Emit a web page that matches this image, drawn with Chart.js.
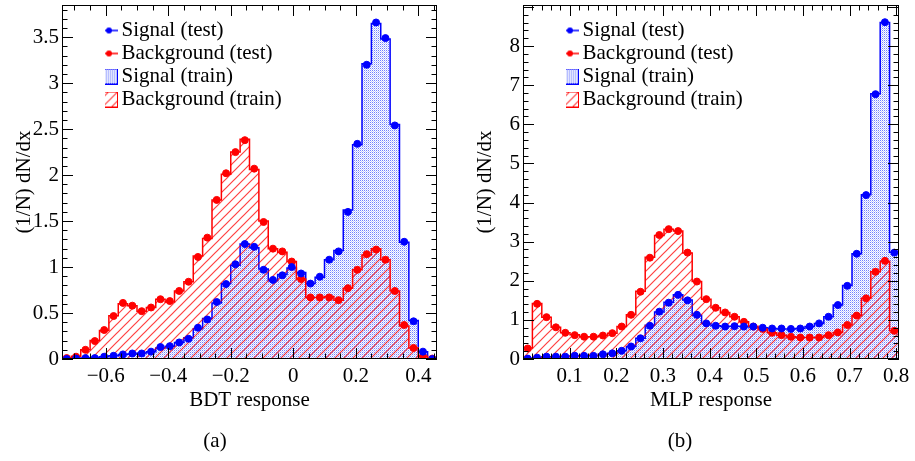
<!DOCTYPE html>
<html>
<head>
<meta charset="utf-8">
<script src="https://cdn.jsdelivr.net/npm/chart.js@4.4.1/dist/chart.umd.min.js"></script>
<style>
  html, body { margin: 0; padding: 0; background: #fff; }
  #wrap { position: relative; width: 915px; height: 461px; }
  canvas { position: absolute; top: 0; }
  #bdtChart { left: 0; }
  #mlpChart { left: 458px; }
  .cap { position: absolute; top: 428px; width: 60px; text-align: center;
         font: 21px "Liberation Serif", serif; color: #000; }
</style>
</head>
<body>
<div id="wrap">
  <canvas id="bdtChart" width="458" height="461"></canvas>
  <canvas id="mlpChart" width="457" height="461"></canvas>
  <div class="cap" style="left:185px">(a)</div>
  <div class="cap" style="left:650px">(b)</div>
</div>
<script>
// BDT response: 40 bins from -0.74 to 0.46
const bdtRange = [-0.74, 0.46];
const bdtSignalTest = [0.0, 0.005, 0.01, 0.01, 0.025, 0.035, 0.05, 0.06, 0.06, 0.08, 0.13, 0.14, 0.18, 0.22, 0.34, 0.43, 0.62, 0.815, 1.03, 1.25,
  1.22, 0.97, 0.86, 0.91, 1.0, 0.93, 0.82, 0.895, 1.08, 1.17, 1.60, 2.34, 3.20, 3.66, 3.49, 2.54, 1.275, 0.41, 0.08, 0.0];
const bdtSignalTrain = [0.0, 0.005, 0.01, 0.015, 0.025, 0.035, 0.05, 0.055, 0.065, 0.08, 0.12, 0.14, 0.18, 0.23, 0.33, 0.44, 0.61, 0.82, 1.02, 1.25,
  1.21, 0.98, 0.85, 0.92, 0.99, 0.94, 0.82, 0.89, 1.08, 1.18, 1.62, 2.33, 3.21, 3.65, 3.48, 2.55, 1.27, 0.42, 0.08, 0.005];
const bdtBackgroundTest = [0.01, 0.025, 0.10, 0.195, 0.315, 0.467, 0.61, 0.58, 0.52, 0.56, 0.65, 0.63, 0.74, 0.84, 1.11, 1.32, 1.73, 2.02, 2.25, 2.38,
  2.07, 1.49, 1.20, 1.17, 1.06, 0.87, 0.67, 0.67, 0.67, 0.64, 0.77, 0.97, 1.14, 1.19, 1.08, 0.74, 0.37, 0.12, 0.03, 0.005];
const bdtBackgroundTrain = [0.01, 0.03, 0.10, 0.2, 0.31, 0.47, 0.6, 0.58, 0.52, 0.56, 0.65, 0.62, 0.74, 0.84, 1.12, 1.31, 1.73, 2.01, 2.25, 2.39,
  2.06, 1.5, 1.2, 1.16, 1.06, 0.87, 0.67, 0.67, 0.68, 0.64, 0.77, 0.97, 1.13, 1.2, 1.08, 0.74, 0.36, 0.12, 0.03, 0.005];
const bdtXTicks = [-0.6, -0.4, -0.2, 0, 0.2, 0.4];
const bdtXLabels = ['\u22120.6', '\u22120.4', '\u22120.2', '0', '0.2', '0.4'];
const bdtYTicks = [0, 0.5, 1, 1.5, 2, 2.5, 3, 3.5];
const bdtYLabels = ['0', '0.5', '1', '1.5', '2', '2.5', '3', '3.5'];

// MLP response: 40 bins from 0 to 0.806
const mlpRange = [0, 0.806];
const mlpSignalTest = [0.01, 0.035, 0.06, 0.06, 0.06, 0.085, 0.08, 0.08, 0.12, 0.145, 0.21, 0.32, 0.53, 0.85, 1.21, 1.44, 1.64, 1.5, 1.13, 0.91,
  0.85, 0.83, 0.84, 0.83, 0.83, 0.80, 0.78, 0.78, 0.77, 0.78, 0.83, 0.91, 1.08, 1.38, 1.87, 2.69, 4.19, 6.77, 8.61, 2.72];
const mlpSignalTrain = [0.01, 0.035, 0.06, 0.06, 0.065, 0.08, 0.08, 0.085, 0.12, 0.15, 0.21, 0.32, 0.53, 0.86, 1.2, 1.45, 1.64, 1.51, 1.12, 0.91,
  0.85, 0.83, 0.84, 0.83, 0.82, 0.8, 0.78, 0.77, 0.77, 0.78, 0.83, 0.91, 1.08, 1.38, 1.88, 2.69, 4.2, 6.78, 8.6, 2.73];
const mlpBackgroundTest = [0.27, 1.41, 1.07, 0.81, 0.67, 0.61, 0.57, 0.57, 0.60, 0.66, 0.83, 1.13, 1.72, 2.59, 3.17, 3.32, 3.27, 2.72, 1.98, 1.53,
  1.31, 1.19, 1.08, 0.95, 0.83, 0.77, 0.67, 0.61, 0.57, 0.55, 0.55, 0.55, 0.61, 0.68, 0.87, 1.11, 1.55, 2.23, 2.51, 0.72];
const mlpBackgroundTrain = [0.28, 1.42, 1.07, 0.81, 0.67, 0.62, 0.57, 0.57, 0.6, 0.66, 0.83, 1.13, 1.73, 2.6, 3.16, 3.32, 3.27, 2.71, 1.98, 1.53,
  1.31, 1.19, 1.08, 0.95, 0.84, 0.77, 0.67, 0.61, 0.57, 0.55, 0.55, 0.55, 0.6, 0.68, 0.87, 1.11, 1.55, 2.23, 2.5, 0.72];
const mlpXTicks = [0.1, 0.2, 0.3, 0.4, 0.5, 0.6, 0.7, 0.8];
const mlpXLabels = ['0.1', '0.2', '0.3', '0.4', '0.5', '0.6', '0.7', '0.8'];
const mlpYTicks = [0, 1, 2, 3, 4, 5, 6, 7, 8];
const mlpYLabels = ['0', '1', '2', '3', '4', '5', '6', '7', '8'];

const FONT = { family: 'Liberation Serif', size: 21 };
const BLUE = '#0000ff';
const RED = '#ff0000';

// histogram outline as step points on the bin edges
function stepPoints(range, values) {
  const w = (range[1] - range[0]) / values.length;
  const pts = [{ x: range[0], y: 0 }];
  values.forEach((v, i) => pts.push({ x: range[0] + i * w, y: v }));
  pts.push({ x: range[1], y: values[values.length - 1] });
  pts.push({ x: range[1], y: 0 });
  return pts;
}

// markers at the bin centres
function centerPoints(range, values) {
  const w = (range[1] - range[0]) / values.length;
  return values.map((v, i) => ({ x: range[0] + (i + 0.5) * w, y: v }));
}

function dotPattern() {
  const c = document.createElement('canvas');
  c.width = 2; c.height = 2;
  const g = c.getContext('2d');
  g.fillStyle = '#ffffff'; g.fillRect(0, 0, 2, 2);
  g.fillStyle = '#7080ff'; g.fillRect(0, 0, 1, 1);
  g.fillStyle = '#c4c9ff'; g.fillRect(1, 1, 1, 1);
  return g.createPattern(c, 'repeat');
}

function hatchPattern() {
  const s = 9;
  const c = document.createElement('canvas');
  c.width = s; c.height = s;
  const g = c.getContext('2d');
  g.strokeStyle = 'rgba(255,0,0,0.75)';
  g.lineWidth = 1.2;
  g.beginPath();
  g.moveTo(0, s); g.lineTo(s, 0);
  g.moveTo(-1, 1); g.lineTo(1, -1);
  g.moveTo(s - 1, s + 1); g.lineTo(s + 1, s - 1);
  g.stroke();
  return g.createPattern(c, 'repeat');
}

// legend icons, ROOT style
function markerIcon(color) {
  const c = document.createElement('canvas');
  c.width = 18; c.height = 10;
  const g = c.getContext('2d');
  g.strokeStyle = color; g.lineWidth = 1.5;
  g.beginPath(); g.moveTo(0, 5); g.lineTo(18, 5); g.stroke();
  g.fillStyle = color;
  g.beginPath(); g.arc(9, 5, 3, 0, 2 * Math.PI); g.fill();
  return c;
}

function boxIcon(pattern, color) {
  const c = document.createElement('canvas');
  c.width = 18; c.height = 16;
  const g = c.getContext('2d');
  g.fillStyle = pattern; g.fillRect(0.5, 0.5, 17, 15);
  g.strokeStyle = color; g.lineWidth = 1;
  g.strokeRect(0.5, 0.5, 17, 15);
  return c;
}

// frame with inward ticks on all four sides
const frameTicks = {
  id: 'frameTicks',
  afterDraw(chart, args, opts) {
    const { ctx, chartArea: a, scales } = chart;
    const sx = scales.x, sy = scales.y;
    const isMajor = (v, step) => Math.abs(v / step - Math.round(v / step)) < 1e-6;
    ctx.save();
    ctx.strokeStyle = '#000';
    ctx.lineWidth = 1;
    ctx.beginPath();
    let v = Math.ceil(sx.min / opts.xMinor - 1e-6) * opts.xMinor;
    for (; v <= sx.max + 1e-9; v += opts.xMinor) {
      const px = Math.round(sx.getPixelForValue(v)) + 0.5;
      const len = isMajor(v, opts.xMajor) ? 11 : 5.5;
      ctx.moveTo(px, a.bottom); ctx.lineTo(px, a.bottom - len);
      ctx.moveTo(px, a.top); ctx.lineTo(px, a.top + len);
    }
    v = Math.ceil(sy.min / opts.yMinor - 1e-6) * opts.yMinor;
    for (; v <= sy.max + 1e-9; v += opts.yMinor) {
      const py = Math.round(sy.getPixelForValue(v)) + 0.5;
      const len = isMajor(v, opts.yMajor) ? 11 : 5.5;
      ctx.moveTo(a.left, py); ctx.lineTo(a.left + len, py);
      ctx.moveTo(a.right, py); ctx.lineTo(a.right - len, py);
    }
    ctx.stroke();
    ctx.strokeRect(Math.round(a.left) + 0.5, Math.round(a.top) + 0.5,
      Math.round(a.width) - 1, Math.round(a.height) - 1);
    ctx.restore();
  }
};

// move the legend box into the upper left of the frame
const legendShift = {
  id: 'legendShift',
  afterLayout(chart) {
    const lg = chart.legend, a = chart.chartArea;
    lg.left = a.left + 43;
    lg.top = a.top + 13;
    lg.bottom = a.bottom;
  }
};

function makeChart(id, cfg) {
  const icons = [markerIcon(BLUE), markerIcon(RED),
    boxIcon(dotPattern(), BLUE), boxIcon(hatchPattern(), RED)];
  return new Chart(document.getElementById(id), {
    type: 'line',
    data: {
      datasets: [
        {
          label: 'Signal (test)',
          data: centerPoints(cfg.range, cfg.sigTest),
          showLine: false, pointRadius: 3.5,
          pointBackgroundColor: BLUE, pointBorderColor: BLUE, borderColor: BLUE,
          order: 0
        },
        {
          label: 'Background (test)',
          data: centerPoints(cfg.range, cfg.bkgTest),
          showLine: false, pointRadius: 3.5,
          pointBackgroundColor: RED, pointBorderColor: RED, borderColor: RED,
          order: 1
        },
        {
          label: 'Signal (train)',
          data: stepPoints(cfg.range, cfg.sigTrain),
          stepped: true, fill: 'origin', pointRadius: 0,
          backgroundColor: dotPattern(), borderColor: BLUE, borderWidth: 1.5,
          order: 3
        },
        {
          label: 'Background (train)',
          data: stepPoints(cfg.range, cfg.bkgTrain),
          stepped: true, fill: 'origin', pointRadius: 0,
          backgroundColor: hatchPattern(), borderColor: RED, borderWidth: 1.5,
          order: 2
        }
      ]
    },
    options: {
      responsive: false,
      animation: false,
      events: [],
      layout: { padding: { top: 5, right: cfg.padRight, left: 0, bottom: 0 } },
      scales: {
        x: {
          type: 'linear', min: cfg.range[0], max: cfg.range[1],
          grid: { display: false, drawTicks: false },
          border: { display: false },
          afterBuildTicks: s => { s.ticks = cfg.xTicks.map(t => ({ value: t })); },
          afterFit: s => { s.height = 102; s.paddingLeft = 0; s.paddingRight = 0; },
          ticks: {
            callback: (val, i) => cfg.xLabels[i],
            font: FONT, color: '#000', padding: 5, maxRotation: 0, autoSkip: false
          },
          title: { display: true, text: cfg.xTitle, font: FONT, color: '#000', padding: { top: 0, bottom: 48 } }
        },
        y: {
          type: 'linear', min: 0, max: cfg.yMax,
          grid: { display: false, drawTicks: false },
          border: { display: false },
          afterBuildTicks: s => { s.ticks = cfg.yTicks.map(t => ({ value: t })); },
          afterFit: s => { s.width = cfg.yWidth; s.paddingTop = 0; s.paddingBottom = 0; },
          ticks: {
            callback: (val, i) => cfg.yLabels[i],
            font: FONT, color: '#000', padding: 3, autoSkip: false
          },
          title: { display: true, text: '(1/N) dN/dx', font: FONT, color: '#000', padding: { top: cfg.yTitlePad } }
        }
      },
      plugins: {
        legend: {
          position: 'chartArea',
          align: 'start',
          labels: {
            usePointStyle: true, pointStyleWidth: 4, boxHeight: 10, padding: 2,
            font: FONT, color: '#000',
            generateLabels: chart => chart.data.datasets.map((ds, i) => ({
              text: ds.label, pointStyle: icons[i], datasetIndex: i, hidden: false,
              lineWidth: 0, fillStyle: 'transparent', strokeStyle: 'transparent', fontColor: '#000'
            }))
          }
        },
        tooltip: { enabled: false },
        frameTicks: cfg.ticks
      }
    },
    plugins: [frameTicks, legendShift]
  });
}

makeChart('bdtChart', {
  range: bdtRange, yMax: 3.85,
  sigTest: bdtSignalTest, sigTrain: bdtSignalTrain,
  bkgTest: bdtBackgroundTest, bkgTrain: bdtBackgroundTrain,
  xTicks: bdtXTicks, xLabels: bdtXLabels, yTicks: bdtYTicks, yLabels: bdtYLabels,
  xTitle: 'BDT response', yWidth: 62, yTitlePad: 12, padRight: 21,
  ticks: { xMajor: 0.2, xMinor: 0.05, yMajor: 0.5, yMinor: 0.1 }
});

makeChart('mlpChart', {
  range: mlpRange, yMax: 9.05,
  sigTest: mlpSignalTest, sigTrain: mlpSignalTrain,
  bkgTest: mlpBackgroundTest, bkgTrain: mlpBackgroundTrain,
  xTicks: mlpXTicks, xLabels: mlpXLabels, yTicks: mlpYTicks, yLabels: mlpYLabels,
  xTitle: 'MLP response', yWidth: 65, yTitlePad: 15, padRight: 16,
  ticks: { xMajor: 0.1, xMinor: 0.02, yMajor: 1, yMinor: 0.2 }
});
</script>
</body>
</html>
